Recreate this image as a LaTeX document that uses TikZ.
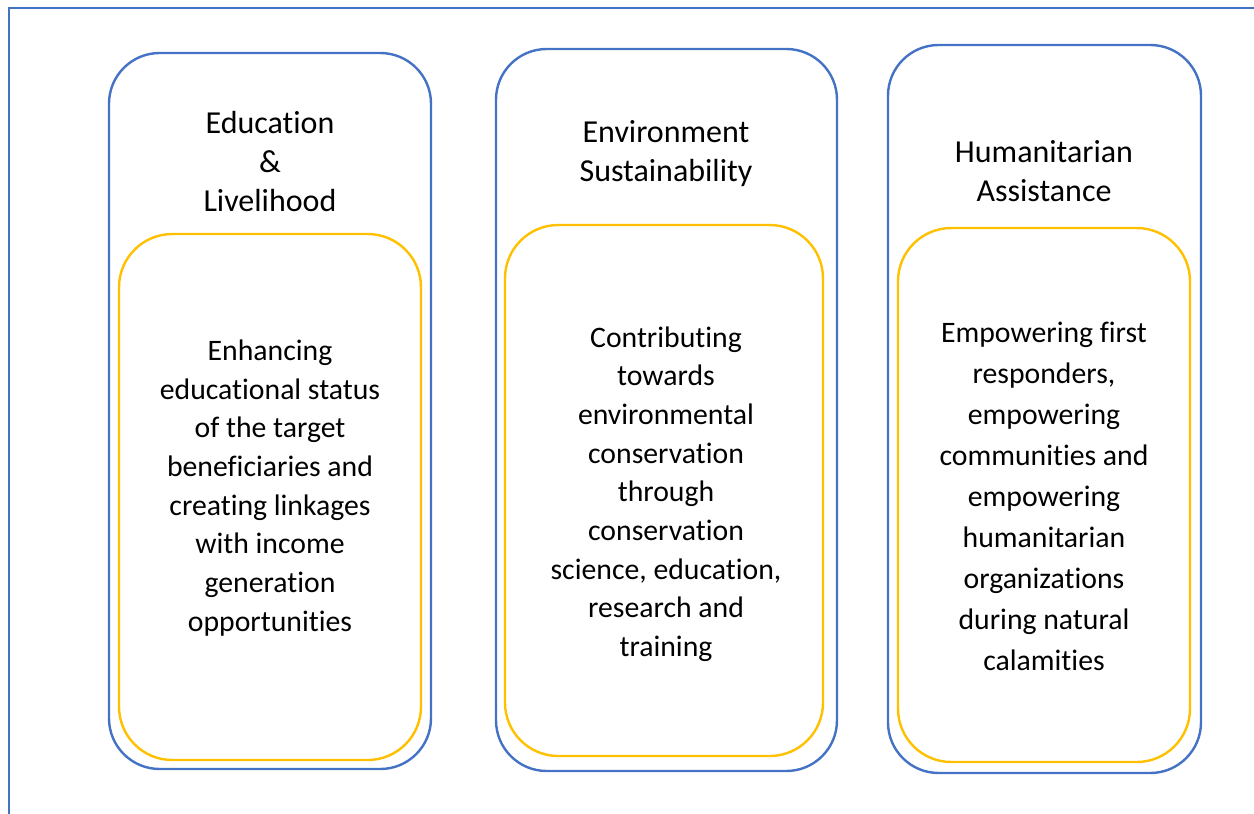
\documentclass[tikz,border=0pt]{standalone}
\usepackage{fontspec}
\setmainfont[Ligatures=NoCommon]{Carlito}
\definecolor{frameblue}{HTML}{4472C4}
\definecolor{boxgold}{HTML}{FFC000}

\begin{document}
\begin{tikzpicture}[x=0.75pt, y=-0.75pt,
    outerbox/.style={draw=frameblue, line width=1.8pt, rounded corners=38pt, inner sep=0pt},
    innerbox/.style={draw=boxgold, line width=1.8pt, rounded corners=40pt, inner sep=0pt},
    title/.style={align=center, font=\fontsize{24}{29.25}\selectfont},
    body/.style={align=center, font=\fontsize{22.3}{29}\selectfont}]
    \useasboundingbox (0,0) rectangle (1254,814);
    \draw[frameblue, line width=1.5pt] (9,814) -- (9,8) -- (1254,8);

    % Education & Livelihood
    \node[outerbox, minimum width=241.5pt, minimum height=537pt] (edu) at (270,411) {};
    \node[innerbox, minimum width=226.5pt, minimum height=394.5pt] (eduin) at (270,497) {};
    \node[title] (edutitle) at (270,161) {Education\\\&\\Livelihood};
    \node[body] (edutext) at (270,488) {Enhancing\\educational status\\of the target\\beneficiaries and\\creating linkages\\with income\\generation\\opportunities};

    % Environment Sustainability
    \node[outerbox, minimum width=255.75pt, minimum height=541.5pt] (env) at (666.5,410) {};
    \node[innerbox, minimum width=238.5pt, minimum height=398.25pt] (envin) at (664,490.5) {};
    \node[title] (envtitle) at (666,153.5) {Environment\\Sustainability};
    \node[body] (envtext) at (666,494) {Contributing\\towards\\environmental\\conservation\\through\\conservation\\science, education,\\research and\\training};

    % Humanitarian Assistance
    \node[outerbox, minimum width=234.75pt, minimum height=546pt] (hum) at (1044.5,409) {};
    \node[innerbox, minimum width=219pt, minimum height=400.5pt] (humin) at (1044,495) {};
    \node[title] (humtitle) at (1044,171.5) {Humanitarian\\Assistance};
    \node[body, font=\fontsize{22.3}{30.75}\selectfont] (humtext) at (1044,496) {Empowering first\\responders,\\empowering\\communities and\\empowering\\humanitarian\\organizations\\during natural\\calamities};
\end{tikzpicture}
\end{document}
